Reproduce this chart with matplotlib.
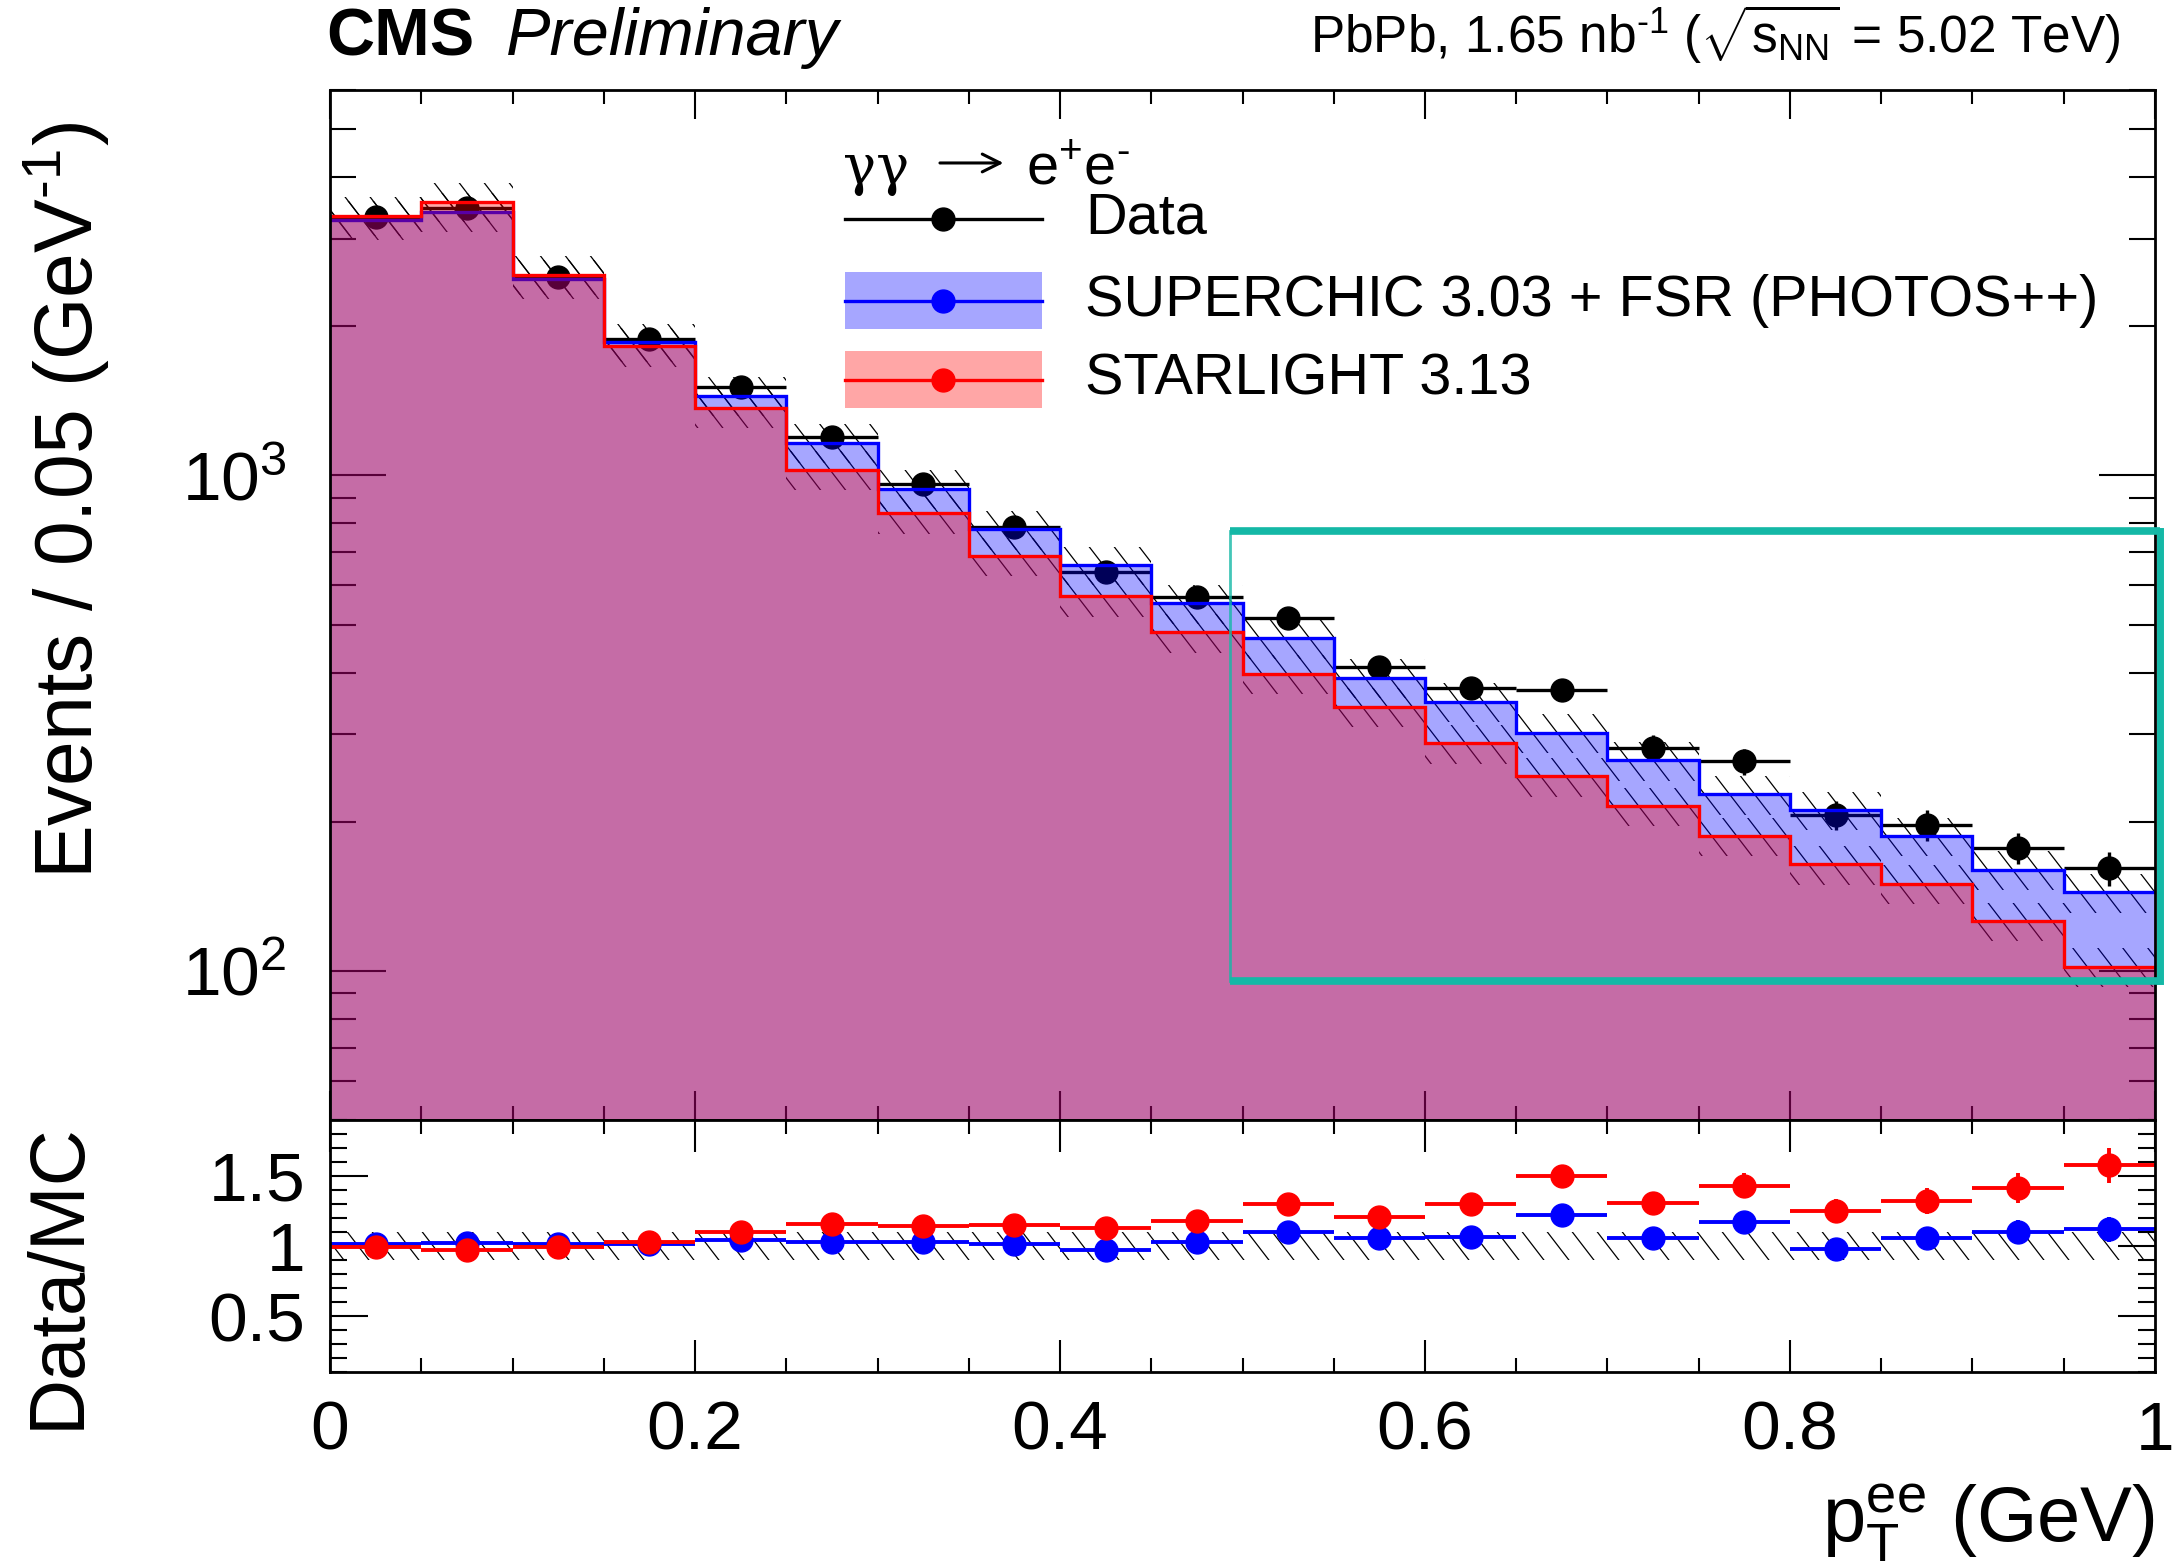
import numpy as np
import matplotlib
matplotlib.use('Agg')
import matplotlib.pyplot as plt
from matplotlib import ticker
from matplotlib.patches import Rectangle
from matplotlib.collections import LineCollection

plt.rcParams['font.family'] = ['Liberation Sans', 'DejaVu Sans']
plt.rcParams['mathtext.fontset'] = 'custom'
plt.rcParams['mathtext.rm'] = 'Liberation Sans'
plt.rcParams['mathtext.it'] = 'Liberation Sans:italic'
plt.rcParams['mathtext.bf'] = 'Liberation Sans:bold'

# pT(ee) binning, 0.05 GeV bins
bin_edges = [0.0, 0.05, 0.1, 0.15, 0.2, 0.25, 0.3, 0.35, 0.4, 0.45, 0.5,
             0.55, 0.6, 0.65, 0.7, 0.75, 0.8, 0.85, 0.9, 0.95, 1.0]

# events per bin
data_counts = [3317, 3474, 2520, 1889, 1508, 1194, 963, 787, 639, 568,
               515, 411, 373, 369, 282, 265, 206, 197, 177, 161]
data_err = [58, 59, 50, 43, 39, 35, 31, 28, 25, 24,
            23, 20, 19, 19, 17, 16, 14, 14, 13, 13]
superchic = [3284, 3402, 2494, 1858, 1447, 1164, 939, 778, 659, 552,
             469, 390, 349, 302, 266, 227, 211, 187, 160, 144]
starlight = [3339, 3568, 2541, 1823, 1368, 1027, 838, 687, 570, 482,
             398, 341, 288, 247, 215, 187, 164, 150, 126, 102]
# relative MC uncertainty (hatched bands)
mc_rel_unc = [0.09, 0.09, 0.09, 0.09, 0.09, 0.09, 0.09, 0.09, 0.09, 0.09,
              0.09, 0.09, 0.09, 0.09, 0.09, 0.09, 0.09, 0.09, 0.09, 0.09]

# ratio panel
ratio_sc = [1.013, 1.02, 1.015, 1.015, 1.044, 1.03, 1.027, 1.013, 0.973, 1.03,
            1.10, 1.056, 1.067, 1.22, 1.06, 1.17, 0.978, 1.06, 1.10, 1.12]
ratio_sc_err = [0.018, 0.017, 0.02, 0.024, 0.027, 0.03, 0.033, 0.036, 0.038, 0.043,
                0.048, 0.052, 0.055, 0.064, 0.063, 0.072, 0.068, 0.076, 0.083, 0.088]
ratio_sl = [0.99, 0.968, 0.99, 1.03, 1.10, 1.16, 1.145, 1.15, 1.13, 1.18,
            1.30, 1.21, 1.30, 1.50, 1.31, 1.43, 1.25, 1.32, 1.415, 1.575]
ratio_sl_err = [0.017, 0.016, 0.02, 0.024, 0.028, 0.034, 0.037, 0.041, 0.045, 0.05,
                0.057, 0.06, 0.067, 0.078, 0.078, 0.088, 0.087, 0.094, 0.106, 0.124]
band_lo = [0.9] * 20
band_hi = [1.1] * 20

edges = np.array(bin_edges)
centers = 0.5 * (edges[:-1] + edges[1:])
half = 0.5 * np.diff(edges)
sc = np.array(superchic)
sl = np.array(starlight)
unc = np.array(mc_rel_unc)

MS = 16.5

fig = plt.figure(figsize=(21.73, 15.67), dpi=100)
ax = fig.add_axes([0.1519, 0.2853, 0.8398, 0.6573])
ax2 = fig.add_axes([0.1519, 0.1244, 0.8398, 0.1609], sharex=ax)


def hatch_band(axis, hi, lo, spacing=25, slope=1.3, zorder=1):
    # ROOT-like "\" hatching: steep lines clipped to the band outline
    band = axis.stairs(hi, edges, baseline=lo, fill=True, facecolor='none',
                       edgecolor='none', linewidth=0)
    w, h = axis.bbox.width, axis.bbox.height
    segs = []
    x0 = -h / slope
    while x0 < w:
        segs.append([(x0 / w, 1.0), ((x0 + h / slope) / w, 0.0)])
        x0 += spacing
    lc = LineCollection(segs, transform=axis.transAxes, colors='black',
                        linewidths=0.9, zorder=zorder)
    axis.add_collection(lc, autolim=False)
    lc.set_clip_path(band)


# --- main panel ---
hatch_band(ax, sc * (1 + unc), sc * (1 - unc))
hatch_band(ax, sl * (1 + unc), sl * (1 - unc))

ax.errorbar(centers, data_counts, xerr=half, yerr=data_err, fmt='o', color='black',
            ms=MS, elinewidth=2.4, capsize=0, zorder=2)

ax.stairs(sc, edges, baseline=1, fill=True, facecolor=(0, 0, 1, 0.35), zorder=3)
ax.stairs(sc, edges, baseline=None, color='blue', lw=2.4, zorder=3.1)
ax.stairs(sl, edges, baseline=1, fill=True, facecolor=(1, 0, 0, 0.35), zorder=4)
ax.stairs(sl, edges, baseline=None, color='red', lw=2.4, zorder=4.1)

ax.set_xlim(0, 1)
ax.set_yscale('log')
ax.set_ylim(50, 6000)
ax.set_axisbelow(True)
ax.xaxis.set_major_locator(ticker.MultipleLocator(0.2))
ax.xaxis.set_minor_locator(ticker.MultipleLocator(0.05))
ax.yaxis.set_major_locator(ticker.LogLocator(base=10))
ax.yaxis.set_minor_locator(ticker.LogLocator(base=10, subs=np.arange(2, 10)))
ax.yaxis.set_minor_formatter(ticker.NullFormatter())
ax.tick_params(which='both', direction='in', top=True, right=True, width=1.5, labelsize=50)
ax.tick_params(axis='x', which='major', length=21)
ax.tick_params(axis='x', which='minor', length=10)
ax.tick_params(axis='y', which='major', length=40, pad=31)
ax.tick_params(axis='y', which='minor', length=19)
ax.tick_params(axis='x', labelbottom=False)

# legend, drawn by hand ROOT style
leg_x0, leg_x1, leg_txt = 0.282, 0.390, 0.4137
leg_rows = [0.8748, 0.7954, 0.7187]
box_h = 0.0553
title_y = 0.9087
ax.text(0.2811, title_y, 'γγ', transform=ax.transAxes, fontsize=40, va='baseline',
        family='DejaVu Serif', zorder=20)
ax.annotate('', xy=(0.3690, 0.9291), xytext=(0.3342, 0.9291), xycoords='axes fraction',
            arrowprops=dict(arrowstyle='->', lw=2.2, color='black', mutation_scale=32,
                            shrinkA=0, shrinkB=0), zorder=20)
ax.text(0.3814, title_y, 'e$^{+}$e$^{‐}$', transform=ax.transAxes, fontsize=41.5,
        va='baseline', zorder=20)
entries = [('Data', 'black', None),
           ('SUPERCHIC 3.03 + FSR (PHOTOS++)', 'blue', (0, 0, 1, 0.35)),
           ('STARLIGHT 3.13', 'red', (1, 0, 0, 0.35))]
for (label, col, fc), y in zip(entries, leg_rows):
    if fc is not None:
        ax.add_patch(Rectangle((leg_x0, y - box_h / 2), leg_x1 - leg_x0, box_h,
                               transform=ax.transAxes, facecolor=fc, edgecolor='none', zorder=20))
    ax.plot([leg_x0, leg_x1], [y, y], transform=ax.transAxes, color=col, lw=2.4, zorder=21)
    ax.plot([0.5 * (leg_x0 + leg_x1)], [y], 'o', transform=ax.transAxes, color=col, ms=MS, zorder=21)
    ax.text(leg_txt, y, label, transform=ax.transAxes, fontsize=41.5, va='center', zorder=21)

# hand drawn highlight box
box_x = (0.493, 1.0027)
box_y = (95.2, 774)
teal = '#14b8a6'
ax.plot(box_x, [box_y[1]] * 2, color=teal, lw=5.5, clip_on=False, zorder=30, solid_capstyle='butt')
ax.plot(box_x, [box_y[0]] * 2, color=teal, lw=5.5, clip_on=False, zorder=30, solid_capstyle='butt')
ax.plot([box_x[1]] * 2, box_y, color=teal, lw=5, clip_on=False, zorder=30)
ax.plot([box_x[0]] * 2, box_y, color=teal, lw=2, alpha=0.8, clip_on=False, zorder=30)

# --- ratio panel ---
hatch_band(ax2, np.array(band_hi), np.array(band_lo))
ax2.errorbar(centers, ratio_sc, xerr=half, yerr=ratio_sc_err, fmt='o', color='blue',
             ms=MS, elinewidth=2.8, capsize=0, zorder=3)
ax2.errorbar(centers, ratio_sl, xerr=half, yerr=ratio_sl_err, fmt='o', color='red',
             ms=MS, elinewidth=2.8, capsize=0, zorder=4)
ax2.set_ylim(0.1, 1.9)
ax2.yaxis.set_major_locator(ticker.MultipleLocator(0.5))
ax2.yaxis.set_minor_locator(ticker.MultipleLocator(0.1))
ax2.yaxis.set_major_formatter(ticker.FuncFormatter(lambda v, p: f'{v:g}'))
ax2.xaxis.set_major_formatter(ticker.FuncFormatter(lambda v, p: f'{v:g}'))
ax2.tick_params(which='both', direction='in', top=True, right=True, width=1.5, labelsize=50)
ax2.tick_params(axis='x', which='major', length=23, pad=20)
ax2.tick_params(axis='x', which='minor', length=10)
ax2.tick_params(axis='y', which='major', length=27, pad=18)
ax2.tick_params(axis='y', which='minor', length=12)

for a in (ax, ax2):
    for sp in a.spines.values():
        sp.set_linewidth(2)
        sp.set_zorder(10)

# texts
fig.text(0.150, 1 - 55 / 1567, 'CMS', fontweight='bold', fontsize=48, va='baseline')
fig.text(0.2329, 1 - 55 / 1567, 'Preliminary', style='italic', fontsize=48, va='baseline')
fig.text(0.9756, 1 - 53 / 1567,
         r'PbPb, 1.65 nb$^{‐1}$ ($\sqrt{\mathrm{s}_{\mathrm{NN}}}$ = 5.02 TeV)',
         fontsize=37, ha='right', va='baseline')
fig.text(66 / 2173, 1 - 122 / 1567, r'Events / 0.05 (GeV$^{‐1}$)', rotation=90,
         fontsize=58, ha='center', va='top')
fig.text(58 / 2173, 1 - 1122 / 1567, 'Data/MC', rotation=90, fontsize=56,
         ha='center', va='top')
fig.text(2155 / 2173, 1 - 1541 / 1567, r'$\mathrm{p}_{\mathrm{T}}^{\mathrm{ee}}$ (GeV)',
         fontsize=56, ha='right', va='baseline')

fig.savefig('out.png', dpi=100)
